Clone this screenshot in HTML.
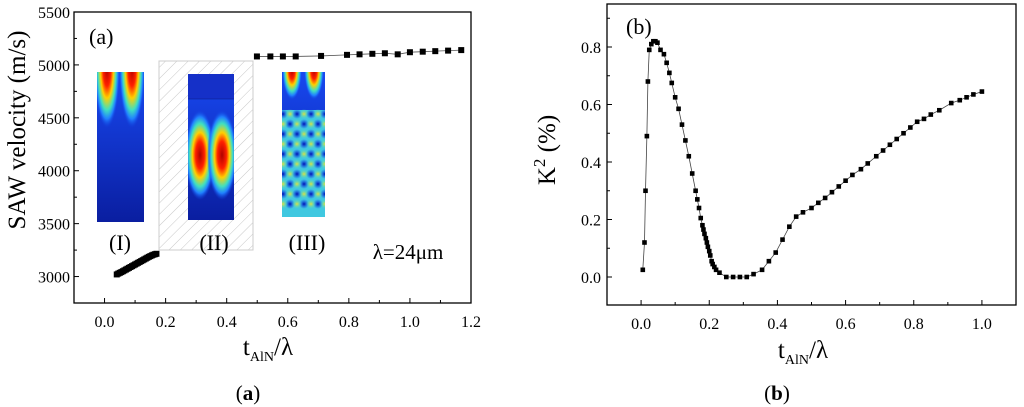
<!DOCTYPE html>
<html><head><meta charset="utf-8"><style>
html,body{margin:0;padding:0;background:#fff;width:1024px;height:407px;overflow:hidden}
svg{display:block;font-family:"Liberation Serif",serif}
</style></head><body>
<svg id="fig" width="1024" height="407" viewBox="0 0 1024 407">
<defs>
<radialGradient id="hotMid" cx="50%" cy="50%" r="50%">
<stop offset="0" stop-color="#b00000"/><stop offset="0.3" stop-color="#ff2000"/><stop offset="0.5" stop-color="#ffd000"/><stop offset="0.7" stop-color="#40e0c0"/><stop offset="0.85" stop-color="#2080ff"/><stop offset="1" stop-color="#1040e0" stop-opacity="0"/></radialGradient>
<radialGradient id="dotY" cx="50%" cy="50%" r="50%"><stop offset="0" stop-color="#e0e040"/><stop offset="1" stop-color="#40e0c0" stop-opacity="0"/></radialGradient>
<radialGradient id="dotB" cx="50%" cy="50%" r="50%"><stop offset="0" stop-color="#0010b0"/><stop offset="1" stop-color="#1040ff" stop-opacity="0"/></radialGradient>
<linearGradient id="blueV" x1="0" y1="0" x2="0" y2="1"><stop offset="0" stop-color="#1848f0"/><stop offset="1" stop-color="#0a1ea0"/></linearGradient>
<pattern id="hatch" width="8" height="8" patternUnits="userSpaceOnUse" patternTransform="rotate(45)"><line x1="0" y1="0" x2="0" y2="8" stroke="#c8c8c8" stroke-width="1"/></pattern>
<clipPath id="c1"><rect x="97" y="72" width="47" height="150"/></clipPath>
<clipPath id="c2"><rect x="188" y="74" width="46" height="146"/></clipPath>
<clipPath id="c3"><rect x="282" y="72" width="43" height="145"/></clipPath>
</defs>
<g id="chartA"></g>
<g id="chartB"></g>
</svg>
<script>
// ---- Chart (a) data ----
const aLowX = [0.040,0.045,0.050,0.055,0.060,0.065,0.070,0.075,0.080,0.085,0.090,0.095,0.100,0.105,0.110,0.115,0.120,0.125,0.130,0.135,0.140,0.145,0.150,0.155,0.160,0.165,0.170];
const aLowY = [3020,3028,3035,3042,3050,3058,3066,3074,3082,3090,3098,3106,3114,3122,3130,3138,3146,3154,3162,3170,3178,3186,3193,3200,3206,3211,3215];
const aHighX = [0.499,0.543,0.584,0.626,0.709,0.794,0.835,0.877,0.918,0.960,1.000,1.042,1.083,1.125,1.168];
const aHighY = [5080,5080,5080,5080,5085,5095,5100,5105,5110,5100,5120,5125,5130,5135,5140];
const aXTicks = ["0.0","0.2","0.4","0.6","0.8","1.0","1.2"];
const aYTicks = ["3000","3500","4000","4500","5000","5500"];
// ---- Chart (b) data ----
const bX = [0.005,0.010,0.013,0.017,0.020,0.024,0.030,0.036,0.042,0.048,0.057,0.067,0.075,0.083,0.090,0.100,0.110,0.120,0.130,0.140,0.150,0.160,0.165,0.170,0.175,0.180,0.183,0.186,0.190,0.193,0.196,0.200,0.203,0.207,0.210,0.215,0.220,0.230,0.250,0.270,0.290,0.310,0.330,0.355,0.375,0.395,0.415,0.435,0.455,0.475,0.500,0.520,0.540,0.560,0.580,0.600,0.620,0.645,0.665,0.690,0.710,0.730,0.750,0.770,0.790,0.810,0.830,0.850,0.875,0.910,0.935,0.955,0.975,1.000];
const bY = [0.025,0.12,0.30,0.49,0.68,0.79,0.81,0.82,0.82,0.815,0.79,0.775,0.745,0.71,0.675,0.625,0.585,0.53,0.475,0.42,0.36,0.30,0.27,0.24,0.205,0.18,0.165,0.15,0.135,0.12,0.105,0.09,0.075,0.055,0.045,0.035,0.025,0.015,0.0,0.0,0.0,0.0,0.01,0.025,0.055,0.085,0.13,0.175,0.21,0.225,0.24,0.258,0.275,0.295,0.315,0.335,0.355,0.375,0.395,0.42,0.44,0.46,0.48,0.50,0.52,0.54,0.55,0.565,0.58,0.605,0.615,0.625,0.635,0.645];
const bXTicks = ["0.0","0.2","0.4","0.6","0.8","1.0"];
const bYTicks = ["0.0","0.2","0.4","0.6","0.8"];

const NS="http://www.w3.org/2000/svg";
function mk(parent,tag,attrs,txt){const e=document.createElementNS(NS,tag);for(const k in attrs)e.setAttribute(k,attrs[k]);if(txt!==undefined)e.textContent=txt;parent.appendChild(e);return e;}

// ===== Chart A =====
const A=document.getElementById('chartA');
const aL=74,aR=471,aT=12,aB=303;
const ax=v=>aL+(v-(-0.1))/(1.3)*(aR-aL);
const ay=v=>aB-(v-2750)/(2750)*(aB-aT);
let fr=mk(A,'rect',{x:aL,y:aT,width:aR-aL,height:aB-aT,fill:'none',stroke:'#000','stroke-width':1.3});


function inset(clip,x,y,w,h,name){const g=mk(A,'g',{'clip-path':'url(#'+clip+')'});mk(g,'rect',{x:x,y:y,width:w,height:h,fill:'url(#blueV)'});return g;}
let g1=inset('c1',97,72,47,150,'inset-mode-i');
mk(g1,'ellipse',{cx:107,cy:68,rx:13,ry:60,fill:'url(#hotMid)'});
mk(g1,'ellipse',{cx:132,cy:68,rx:13,ry:60,fill:'url(#hotMid)'});
let hb=mk(A,'rect',{x:159,y:61,width:94,height:189,fill:'url(#hatch)',stroke:'#ccc','stroke-width':1});


let g2=inset('c2',188,74,46,146,'inset-mode-ii');
mk(g2,'rect',{x:188,y:74,width:46,height:25,fill:'#1530c8'});
mk(g2,'line',{x1:188,y1:99,x2:234,y2:99,stroke:'#0a1a80','stroke-width':0.6});
mk(g2,'ellipse',{cx:200,cy:155,rx:15,ry:45,fill:'url(#hotMid)'});
mk(g2,'ellipse',{cx:222,cy:155,rx:15,ry:45,fill:'url(#hotMid)'});
let g3=inset('c3',282,72,43,145,'inset-mode-iii');
mk(g3,'ellipse',{cx:292,cy:70,rx:10,ry:30,fill:'url(#hotMid)'});
mk(g3,'ellipse',{cx:314,cy:70,rx:10,ry:30,fill:'url(#hotMid)'});
mk(g3,'rect',{x:282,y:110,width:43,height:107,fill:'#40c8e0'});
for(let r=0;r<10;r++)for(let c=0;c<4;c++){mk(g3,'circle',{cx:283+c*14+(r%2?7:0),cy:114+r*10,r:5,fill:'url(#dotB)'});mk(g3,'circle',{cx:290+c*14-(r%2?7:0),cy:114+r*10,r:5,fill:'url(#dotY)'});}
[['(I)',120,250],['(II)',214,250],['(III)',307,250]].forEach(([t,x,y],i)=>{let e=mk(A,'text',{x:x,y:y,'font-size':22,'text-anchor':'middle'},t);});
let lam=mk(A,'text',{x:408,y:259,'font-size':21,'text-anchor':'middle'},'λ=24μm');


let pa=mk(A,'text',{x:89,y:44,'font-size':22},'(a)');


aXTicks.forEach((t,i)=>{const v=i*0.2,x=ax(v);mk(A,'line',{x1:x,y1:aB,x2:x,y2:aB-5,stroke:'#000'});const mx=ax(v-0.1);mk(A,'line',{x1:mx,y1:aB,x2:mx,y2:aB-3,stroke:'#000'});let e=mk(A,'text',{x:x,y:aB+24,'font-size':16,'text-anchor':'middle'},t);});
aYTicks.forEach((t,i)=>{const v=3000+i*500,y=ay(v);mk(A,'line',{x1:aL,y1:y,x2:aL+5,y2:y,stroke:'#000'});const my=ay(v-250);mk(A,'line',{x1:aL,y1:my,x2:aL+3,y2:my,stroke:'#000'});let e=mk(A,'text',{x:aL-4,y:y+6,'font-size':16,'text-anchor':'end'},t);});
let ya=mk(A,'text',{x:0,y:0,'font-size':25,'text-anchor':'middle',transform:'translate(25,130) rotate(-90)'},'SAW velocity (m/s)');


let xa=mk(A,'text',{x:268,y:355,'font-size':25,'text-anchor':'middle'});


mk(xa,'tspan',{},'t');mk(xa,'tspan',{'font-size':14,dy:6},'AlN');mk(xa,'tspan',{dy:-6},'/λ');
let pl=mk(A,'polyline',{points:aHighX.map((x,i)=>ax(x)+','+ay(aHighY[i])).join(' '),fill:'none',stroke:'#555','stroke-width':0.8});


aLowX.forEach((x,i)=>{let r=mk(A,'rect',{x:ax(x)-3,y:ay(aLowY[i])-3,width:6,height:6,fill:'#000'});});
aHighX.forEach((x,i)=>{let r=mk(A,'rect',{x:ax(x)-3,y:ay(aHighY[i])-3,width:6,height:6,fill:'#000'});});
let ca=mk(A,'text',{x:248,y:400,'font-size':21,'text-anchor':'middle'});


mk(ca,'tspan',{},'(');mk(ca,'tspan',{'font-weight':'bold'},'a');mk(ca,'tspan',{},')');

// ===== Chart B =====
const B=document.getElementById('chartB');
const bL=607,bR=1016,bT=4,bB=305;
const bx=v=>bL+(v+0.1)/1.2*(bR-bL);
const by=v=>277-v/0.8*230;
let fb=mk(B,'rect',{x:bL,y:bT,width:bR-bL,height:bB-bT,fill:'none',stroke:'#000','stroke-width':1.3});


bXTicks.forEach((t,i)=>{const v=i*0.2,x=bx(v);mk(B,'line',{x1:x,y1:bB,x2:x,y2:bB-5,stroke:'#000'});const mx=bx(v-0.1);mk(B,'line',{x1:mx,y1:bB,x2:mx,y2:bB-3,stroke:'#000'});let e=mk(B,'text',{x:x,y:bB+24,'font-size':16,'text-anchor':'middle'},t);});
mk(B,'line',{x1:bx(1.1),y1:bB,x2:bx(1.1),y2:bB-3,stroke:'#000'});
bYTicks.forEach((t,i)=>{const v=i*0.2,y=by(v);mk(B,'line',{x1:bL,y1:y,x2:bL+5,y2:y,stroke:'#000'});const my=by(v+0.1);mk(B,'line',{x1:bL,y1:my,x2:bL+3,y2:my,stroke:'#000'});let e=mk(B,'text',{x:bL-6,y:y+6,'font-size':16,'text-anchor':'end'},t);});
let yb=mk(B,'text',{x:0,y:0,'font-size':25,'text-anchor':'middle',transform:'translate(555,150) rotate(-90)'});


mk(yb,'tspan',{},'K');mk(yb,'tspan',{'font-size':17,dy:-10},'2');mk(yb,'tspan',{dy:10},' (%)');
let xb=mk(B,'text',{x:803,y:358,'font-size':25,'text-anchor':'middle'});


mk(xb,'tspan',{},'t');mk(xb,'tspan',{'font-size':14,dy:6},'AlN');mk(xb,'tspan',{dy:-6},'/λ');
let pb=mk(B,'text',{x:626,y:34,'font-size':22},'(b)');


let lb=mk(B,'polyline',{points:bX.map((x,i)=>bx(x)+','+by(bY[i])).join(' '),fill:'none',stroke:'#444','stroke-width':0.8});


bX.forEach((x,i)=>{let r=mk(B,'rect',{x:bx(x)-2.3,y:by(bY[i])-2.3,width:4.6,height:4.6,fill:'#000'});});
let cb=mk(B,'text',{x:777,y:400,'font-size':21,'text-anchor':'middle'});


mk(cb,'tspan',{},'(');mk(cb,'tspan',{'font-weight':'bold'},'b');mk(cb,'tspan',{},')');
</script>
</body></html>
